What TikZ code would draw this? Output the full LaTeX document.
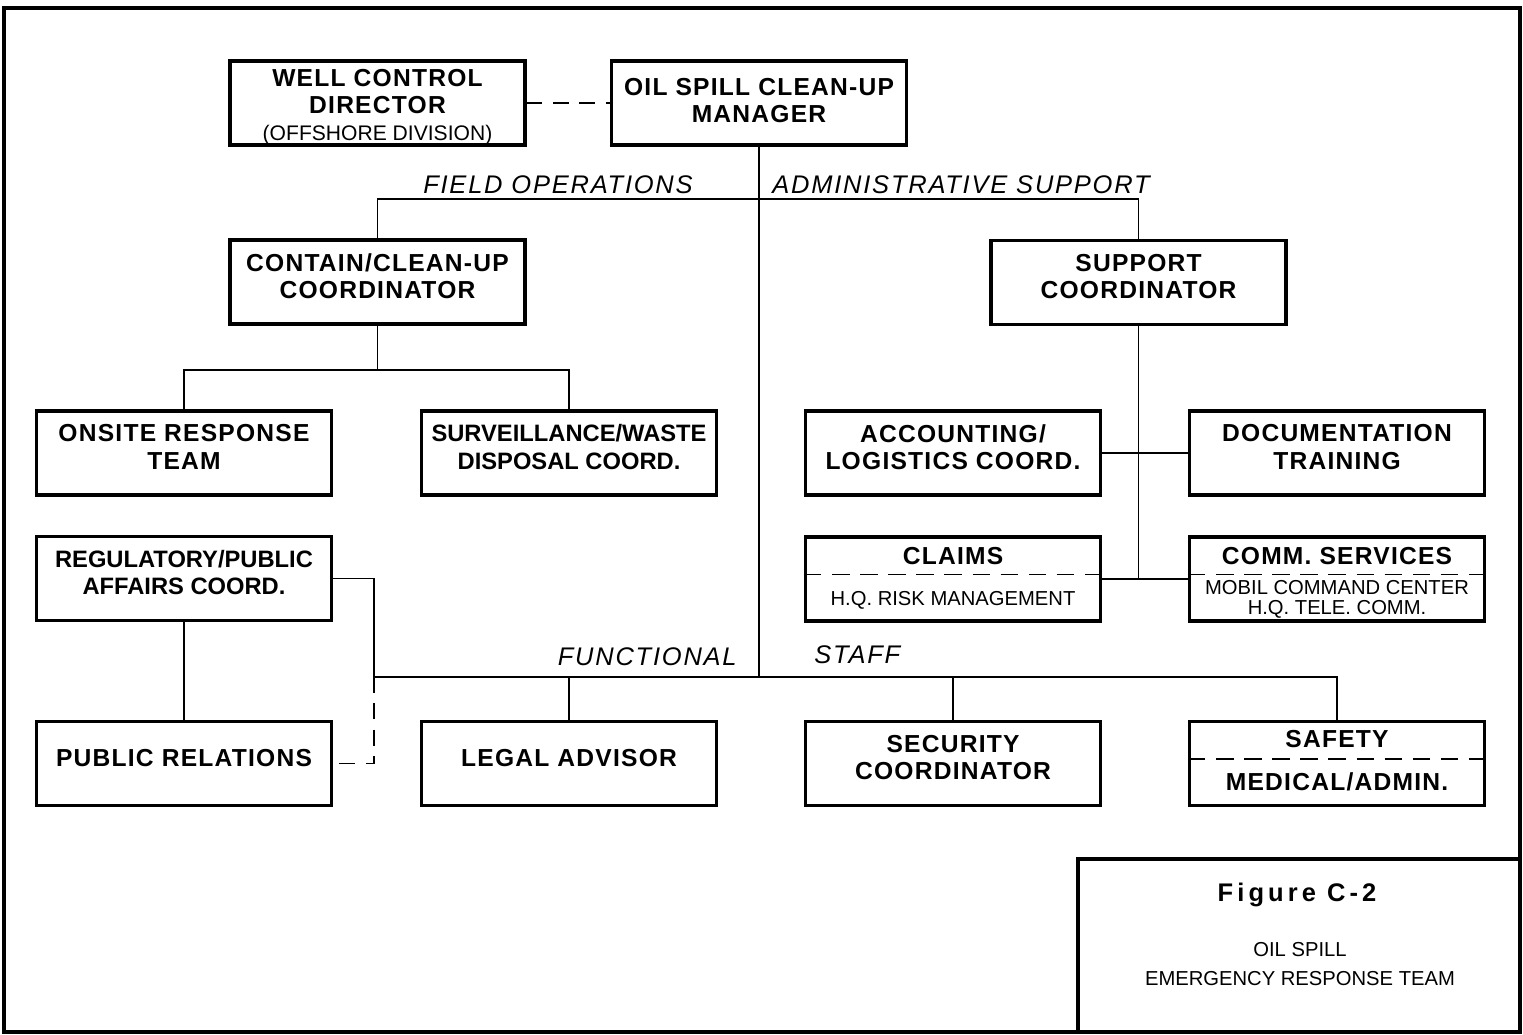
\documentclass[tikz,border=0pt]{standalone}
\usepackage{fontspec}
\setmainfont{Liberation Sans}
\newfontfamily\wideface[LetterSpace=5]{Liberation Sans}
\newfontfamily\slantface[LetterSpace=7]{Liberation Sans}
\newfontfamily\figface[LetterSpace=16]{Liberation Sans}
\newcommand\minortext[1]{{\normalfont\fontsize{12}{13}\selectfont #1}}
\usetikzlibrary{calc}

\begin{document}
\begin{tikzpicture}[
  x=0.02cm, y=-0.02cm,
  unit/.style  ={draw, line width=1.9pt, minimum width=5.9cm, minimum height=1.68cm,
                 inner sep=1pt, align=center, text depth=0.24cm,
                 font=\wideface\bfseries\fontsize{14}{15.5}\selectfont},
  tight/.style ={font=\normalfont\bfseries\fontsize{13.5}{15.5}\selectfont},
  head/.style  ={inner sep=0pt, align=center, font=\wideface\bfseries\fontsize{14}{15.5}\selectfont},
  fine/.style  ={inner sep=0pt, align=center, font=\fontsize{11.5}{11.5}\selectfont},
  branch/.style={inner sep=0pt, font=\slantface\itshape\fontsize{14.5}{16}\selectfont},
  link/.style  ={line width=1pt},
  dlink/.style ={line width=1pt, dash pattern=on 9pt off 6pt},
  split/.style ={line width=0.9pt, dash pattern=on 10pt off 6pt},
  frame/.style ={line width=1.9pt},
]
  \useasboundingbox (0,0) rectangle (1523,1034);
  \draw[frame] (4,8) rectangle (1520,1032);

  % Top row
  \node[unit] (well)    at (377.5,103) {};
  \node[head] (welltext) at (377.5,107) {WELL CONTROL\\DIRECTOR\\\minortext{(OFFSHORE DIVISION)}};
  \node[unit, text depth=0.1cm] (manager) at (759,103) {OIL SPILL CLEAN-UP\\MANAGER};

  % Coordinators
  \node[unit] (contain) at (377.5,282) {CONTAIN/CLEAN-UP\\COORDINATOR};
  \node[unit] (support) at (1138.5,282.5) {SUPPORT\\COORDINATOR};

  % Field operations side
  \node[unit] (onsite) at (184,453) {ONSITE RESPONSE\\TEAM};
  \node[unit, tight] (surv) at (569,453) {SURVEILLANCE/WASTE\\DISPOSAL COORD.};
  \node[unit, tight] (reg)  at (184,578.5) {REGULATORY/PUBLIC\\AFFAIRS COORD.};

  % Administrative support side
  \node[unit] (acct)   at (953,453)  {ACCOUNTING/\\LOGISTICS COORD.};
  \node[unit] (doc)    at (1337,453) {DOCUMENTATION\\TRAINING};
  \node[unit] (claims) at (953,579)  {};
  \node[unit] (comm)   at (1337,579) {};

  \node[head] (claimshead) at (953,556)  {CLAIMS};
  \node[fine] (claimsfoot) at (953,600)  {H.Q. RISK MANAGEMENT};
  \node[head] (commhead)   at (1337,556) {COMM. SERVICES};
  \node[fine] (commfoot)   at (1337,599) {MOBIL COMMAND CENTER\\H.Q. TELE. COMM.};

  % Functional staff row
  \node[unit] (pubrel)   at (184,763.5)  {PUBLIC RELATIONS};
  \node[unit] (legal)    at (569,763.5)  {LEGAL ADVISOR};
  \node[unit] (security) at (953,763.5)  {SECURITY\\COORDINATOR};
  \node[unit] (safety)   at (1337,763.5) {};
  \node[head] (safetyhead) at (1337,739) {SAFETY};
  \node[head] (safetyfoot) at (1337,782) {MEDICAL/ADMIN.};

  % Dashed dividers inside the split boxes
  \foreach \b in {claims,comm,safety}
    \draw[split] ($(\b.north west)!0.45!(\b.south west)$) -- ($(\b.north east)!0.45!(\b.south east)$);

  % Branch labels
  \node[branch, anchor=base east] (fieldlbl) at (693,193) {FIELD OPERATIONS};
  \node[branch, anchor=base west] (adminlbl) at (772,193) {ADMINISTRATIVE SUPPORT};
  \node[branch, anchor=base east] (funclbl)  at (737,665) {FUNCTIONAL};
  \node[branch, anchor=base west] (stafflbl) at (814,663) {STAFF};

  % Junction points
  \coordinate (fieldbar) at (759,199);
  \coordinate (cbar)     at (377.5,370);
  \coordinate (staffbar) at (759,677);
  \coordinate (lbar)     at (374,677);

  % Connectors
  \draw[dlink] (well.east) -- (manager.west);
  \draw[link] (manager.south) -- (staffbar);
  \draw[link] (contain.north) |- (fieldbar) -| (support.north);
  \draw[link] (contain.south) -- (cbar);
  \draw[link] (onsite.north) |- (cbar) -| (surv.north);
  \draw[link] (support.south) -- (support.south |- claims.east);
  \draw[link] (acct.east) -- (doc.west);
  \draw[link] (claims.east) -- (comm.west);
  \draw[link] (lbar) -- (safety.north |- staffbar) -- (safety.north);
  \draw[link] (legal.north) -- (legal.north |- staffbar);
  \draw[link] (security.north) -- (security.north |- staffbar);
  \draw[link] (reg.east) -| (lbar);
  \draw[link] (reg.south) -- (pubrel.north);
  \draw[dlink] (lbar) |- (pubrel.east);

  % Figure title block
  \node[draw, frame, minimum width=8.84cm, minimum height=3.46cm] (figbox) at (1299,945.5) {};
  \node[inner sep=0pt, font=\figface\bfseries\fontsize{14.5}{17}\selectfont] (figtitle) at (1297,895) {Figure C-2};
  \node[inner sep=0pt, align=center, font=\fontsize{11.5}{16}\selectfont] (figsub) at (1300,964)
       {OIL SPILL\\EMERGENCY RESPONSE TEAM};

\end{tikzpicture}
\end{document}
